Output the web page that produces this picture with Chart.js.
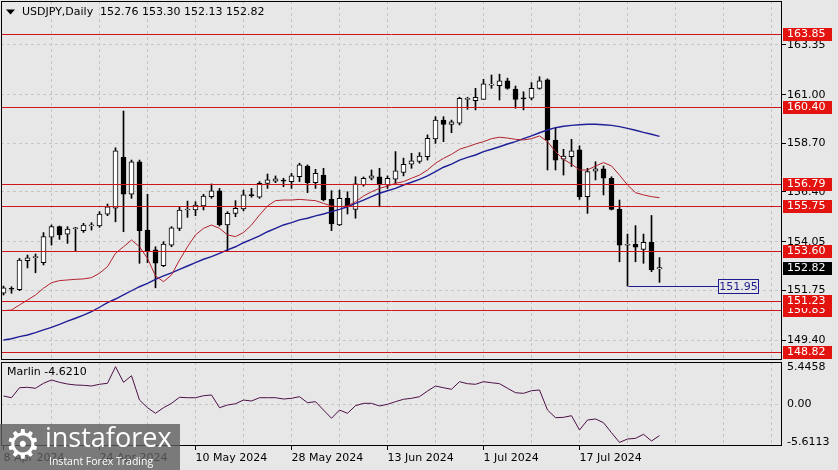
<!DOCTYPE html>
<html><head><meta charset="utf-8">
<script src="https://cdn.jsdelivr.net/npm/chart.js@4.4.1/dist/chart.umd.min.js"></script>
<style>
html,body{margin:0;padding:0;background:#e7e7e7;}
#wrap{position:relative;width:838px;height:470px;overflow:hidden;background:#e7e7e7;}
canvas{position:absolute;left:0;}
#c1{top:0;}
#c2{top:360px;}
#wm{position:absolute;left:0;top:424px;width:180px;height:46px;background:rgba(95,95,95,0.8);color:#fff;font-family:'Open Sans',sans-serif;overflow:hidden;}
#wm .gear{position:absolute;left:5px;top:-3px;font-family:'DejaVu Sans';font-size:40px;line-height:46px;}
#wm .big{position:absolute;left:45px;top:-5px;font-size:27px;line-height:36px;letter-spacing:0px;}
#wm .small{position:absolute;left:49px;top:30px;font-size:10.5px;line-height:14px;}
</style></head>
<body><div id="wrap">
<canvas id="c1" width="838" height="362"></canvas>
<canvas id="c2" width="838" height="110"></canvas>
<div id="wm"><span class="gear">⚙</span><span class="big">instaforex</span><span class="small">Instant Forex Trading</span></div>
</div>
<script>
// ---- data ----
const dateLabels = ['8 Apr 2024','24 Apr 2024','10 May 2024','28 May 2024','13 Jun 2024','1 Jul 2024','17 Jul 2024'];
const dateIdx = [0,12,24,36,48,60,72];
const opens  = [151.61,151.82,151.78,153.15,153.30,153.06,154.26,154.76,154.40,154.66,154.57,154.80,154.79,155.35,155.63,158.04,156.30,157.83,154.60,153.66,152.92,153.89,154.68,155.55,155.55,155.74,156.18,156.46,154.84,155.39,155.60,156.24,156.15,156.81,156.91,
156.95,156.89,157.12,157.63,156.84,157.20,156.05,154.84,156.10,155.58,156.73,157.05,157.12,156.73,157.00,157.33,157.71,157.84,158.07,158.91,159.80,159.60,159.65,160.78,160.72,160.78,161.45,161.43,161.66,161.26,160.82,160.83,161.30,161.70,158.86,157.95,158.07,158.39,156.18,157.39,157.49,157.05,155.58,153.88,153.93,153.69,154.02,152.76];
const highs  = [151.95,151.92,153.26,153.42,153.47,154.48,154.84,154.79,154.76,154.73,154.92,154.95,155.47,155.83,158.49,160.23,157.91,157.91,156.29,153.81,154.05,154.76,155.68,155.97,155.94,156.29,156.78,156.57,155.47,155.99,156.49,156.57,156.89,157.25,157.16,
157.05,157.28,157.76,157.68,157.47,157.52,156.46,156.49,156.41,157.12,157.11,157.44,157.52,157.16,158.31,158.00,158.23,158.26,159.10,159.96,159.96,159.80,160.88,160.88,161.30,161.73,161.93,161.97,161.78,161.41,161.14,161.57,161.85,161.75,159.41,158.42,158.89,158.58,157.52,157.83,157.63,157.12,156.02,154.41,154.81,154.41,155.29,153.30];
const lows   = [151.53,151.61,151.73,152.81,152.58,152.95,153.89,154.16,153.97,153.58,154.49,154.60,154.73,155.28,154.99,154.52,156.10,153.03,153.06,151.87,152.87,153.81,154.57,155.20,155.28,155.55,156.10,154.79,153.62,155.23,155.51,156.15,156.10,156.57,156.84,
156.65,156.57,156.89,156.37,156.57,155.98,154.57,154.81,155.36,155.16,156.68,156.97,155.70,156.57,156.81,157.16,157.52,157.76,157.91,158.70,158.78,159.20,159.57,160.31,160.28,160.78,161.30,160.75,161.26,160.36,160.28,160.75,161.26,157.44,157.44,157.20,157.60,156.05,155.39,156.97,156.26,155.55,153.10,151.95,153.10,153.03,152.63,152.13];
const closes = [151.87,151.80,153.18,153.29,153.34,154.29,154.76,154.37,154.65,154.68,154.84,154.83,155.36,155.70,158.35,156.30,157.83,154.57,153.61,153.03,153.94,154.71,155.55,155.56,155.78,156.21,156.46,154.84,155.39,155.63,156.26,156.23,156.81,156.97,157.02,
156.91,157.16,157.68,156.84,157.28,156.02,154.89,156.10,155.70,156.78,157.05,157.16,156.73,157.05,157.40,157.71,157.87,158.10,158.94,159.80,159.60,159.72,160.83,160.80,160.88,161.51,161.47,161.66,161.30,160.78,160.80,161.30,161.66,158.86,157.91,158.10,158.35,156.18,157.36,157.49,157.05,155.58,153.88,153.93,153.79,154.02,152.71,152.82];
const maRed  = [150.79,150.82,151.06,151.29,151.53,151.85,152.11,152.21,152.24,152.27,152.29,152.35,152.56,152.87,153.50,153.81,154.13,153.81,153.26,152.43,152.16,152.48,153.18,153.81,154.37,154.68,154.84,154.68,154.37,154.29,154.48,154.84,155.31,155.74,155.99,
156.02,156.02,156.05,156.02,155.99,155.86,155.74,155.70,155.74,155.94,156.21,156.41,156.57,156.68,156.81,156.89,157.05,157.20,157.44,157.76,157.99,158.18,158.42,158.54,158.67,158.78,158.92,158.99,158.95,158.89,158.86,158.92,159.05,158.78,158.31,157.94,157.72,157.44,157.44,157.63,157.79,157.63,157.20,156.73,156.37,156.26,156.18,156.13];
const maBlue = [149.40,149.46,149.56,149.64,149.75,149.88,150.00,150.14,150.29,150.43,150.58,150.74,150.95,151.17,151.34,151.53,151.73,151.92,152.08,152.27,152.43,152.58,152.74,152.90,153.06,153.22,153.34,153.50,153.66,153.81,154.00,154.16,154.32,154.52,154.68,
154.84,154.95,155.08,155.16,155.27,155.36,155.47,155.58,155.70,155.86,156.02,156.18,156.34,156.46,156.57,156.73,156.86,157.00,157.16,157.36,157.57,157.72,157.91,158.04,158.15,158.31,158.42,158.54,158.67,158.78,158.92,159.05,159.20,159.33,
159.44,159.51,159.55,159.58,159.60,159.60,159.58,159.55,159.49,159.41,159.32,159.22,159.13,159.03];
const marlin = [1.17,0.92,2.38,2.44,2.30,3.03,3.51,3.17,2.92,2.78,2.73,2.63,2.88,3.03,5.4458,3.17,4.14,0.58,-0.54,-1.36,-0.54,0.10,0.98,0.92,0.92,1.21,1.32,-0.54,-0.15,0.04,0.58,0.44,0.92,0.92,0.92,0.73,0.83,1.07,0.19,0.34,-0.88,-2.09,-0.88,-1.36,-0.25,0.10,0.10,-0.29,-0.04,0.34,0.69,0.83,1.07,
1.90,2.63,2.38,2.15,3.26,2.97,2.88,3.26,3.11,2.97,2.30,1.65,1.56,1.94,2.05,-0.88,-2.00,-1.95,-1.71,-3.80,-2.34,-2.19,-2.73,-4.20,-5.6113,-5.12,-5.02,-4.43,-5.41,-4.62];
const priceTicks = [163.35,161.00,158.70,156.40,154.05,151.75,149.40];
const levels = [148.82,150.83,151.23,153.60,155.75,156.79,160.40,163.85];
const lastPrice = 152.82;
const swingLow = 151.95, swingIdx = 78;
const marlinTicks = [5.4458, 0, -5.6113];
const symbolTitle = 'USDJPY,Daily';
const ohlcTitle = '152.76 153.30 152.13 152.82';
const marlinTitle = 'Marlin -4.6210';
const gridIdx = [6,12,18,24,30,36,42,48,54,60,66,72,78,84,90,96];

// ---- setup ----
Chart.defaults.font.family = 'DejaVu Sans';
Chart.defaults.font.size = 11;
Chart.defaults.color = '#000';
const GRID = '#c6c6c6';
const idx = opens.map((_, i) => i);
const XMIN = -0.3125, XMAX = 97.3125;

function frame(chart) {
  const {ctx, chartArea: a} = chart;
  ctx.save();
  ctx.strokeStyle = '#000'; ctx.lineWidth = 1;
  ctx.strokeRect(a.left + 0.5, a.top + 0.5, a.right - a.left - 1, a.bottom - a.top - 1);
  ctx.restore();
}
function tag(ctx, py, text, bg) {
  ctx.fillStyle = bg;
  ctx.fillRect(783, Math.round(py) - 6, 49, 13);
  ctx.fillStyle = '#fff';
  ctx.textBaseline = 'middle'; ctx.textAlign = 'left';
  ctx.fillText(text, 787, Math.round(py) + 0.5);
}

const mainDecor = {
  id: 'mainDecor',
  afterDatasetsDraw(chart) {
    const {ctx, chartArea: a, scales: {x, y}} = chart;
    ctx.save();
    ctx.lineWidth = 1;
    ctx.strokeStyle = '#d0141c';
    levels.forEach(v => {
      const py = Math.round(y.getPixelForValue(v)) + 0.5;
      ctx.beginPath(); ctx.moveTo(a.left, py); ctx.lineTo(a.right, py); ctx.stroke();
    });
    const sy = Math.round(y.getPixelForValue(swingLow)) + 0.5;
    const sx = Math.round(x.getPixelForValue(swingIdx)) + 0.5;
    ctx.strokeStyle = '#1c1c8c';
    ctx.beginPath(); ctx.moveTo(sx, sy); ctx.lineTo(718, sy); ctx.stroke();
    ctx.fillStyle = '#e7e7e7';
    ctx.fillRect(718.5, sy - 7, 40, 14);
    ctx.strokeRect(718.5, sy - 7, 40, 14);
    ctx.fillStyle = '#1c1c8c';
    ctx.font = '11px "DejaVu Sans"';
    ctx.textAlign = 'center'; ctx.textBaseline = 'middle';
    ctx.fillText(swingLow.toFixed(2), 738.5, sy + 0.5);
    ctx.restore();
  },
  afterDraw(chart) {
    const {ctx, scales: {y}} = chart;
    frame(chart);
    ctx.save();
    ctx.font = '11px "DejaVu Sans"';
    levels.forEach(v => tag(ctx, y.getPixelForValue(v), v.toFixed(2), '#e3140f'));
    tag(ctx, y.getPixelForValue(lastPrice), lastPrice.toFixed(2), '#000');
    ctx.fillStyle = '#000';
    ctx.beginPath(); ctx.moveTo(6, 9.5); ctx.lineTo(15, 9.5); ctx.lineTo(10.5, 14.5); ctx.closePath(); ctx.fill();
    ctx.textAlign = 'left'; ctx.textBaseline = 'middle';
    ctx.fillText(symbolTitle, 22, 12.5);
    ctx.fillText(ohlcTitle, 100, 12.5);
    ctx.restore();
  }
};

new Chart(document.getElementById('c1'), {
  type: 'bar',
  data: {
    datasets: [
      { type: 'line', data: idx.map(i => ({x: i, y: maRed[i]})), borderColor: '#b3202e', borderWidth: 1, pointRadius: 0, tension: 0, order: 1 },
      { type: 'line', data: idx.map(i => ({x: i, y: maBlue[i]})), borderColor: '#1e1e96', borderWidth: 1.4, pointRadius: 0, tension: 0, order: 1 },
      { type: 'bar', data: idx.map(i => ({x: i, y: [opens[i], closes[i]]})),
        backgroundColor: idx.map(i => closes[i] >= opens[i] ? '#ffffff' : '#000000'),
        borderColor: '#000', borderWidth: 1, borderSkipped: false, barThickness: 5, minBarLength: 1, grouped: false, order: 2 },
      { type: 'bar', data: idx.map(i => ({x: i, y: [lows[i], highs[i]]})),
        backgroundColor: '#000', borderWidth: 0, barThickness: 1, grouped: false, order: 3 }
    ]
  },
  options: {
    responsive: false, animation: false, devicePixelRatio: 1, events: [],
    layout: { padding: { left: 1, top: 1, right: 0, bottom: 2 } },
    plugins: { legend: { display: false }, tooltip: { enabled: false } },
    scales: {
      x: { type: 'linear', min: XMIN, max: XMAX, offset: false,
        grid: { offset: false, color: GRID, drawTicks: false },
        border: { display: false, dash: [3, 3] },
        ticks: { display: false },
        afterBuildTicks: s => { s.ticks = gridIdx.map(v => ({value: v})); },
        afterFit: s => { s.height = 0; s.paddingLeft = 0; s.paddingRight = 0; } },
      y: { type: 'linear', position: 'right', min: 148.456, max: 165.43,
        grid: { color: GRID, drawTicks: true, tickLength: 4, tickColor: '#000', tickWidth: 1 },
        border: { display: false, dash: [3, 3] },
        ticks: { padding: 1, color: '#000', callback: v => Number(v).toFixed(2) },
        afterBuildTicks: s => { s.ticks = priceTicks.map(v => ({value: v})); },
        afterFit: s => { s.width = 56; s.paddingTop = 0; s.paddingBottom = 0; } }
    }
  },
  plugins: [mainDecor]
});

const subDecor = {
  id: 'subDecor',
  afterDraw(chart) {
    const {ctx} = chart;
    frame(chart);
    ctx.save();
    ctx.font = '11px "DejaVu Sans"';
    ctx.fillStyle = '#000'; ctx.textAlign = 'left'; ctx.textBaseline = 'middle';
    ctx.fillText(marlinTitle, 7, 12.5);
    ctx.restore();
  }
};

new Chart(document.getElementById('c2'), {
  type: 'line',
  data: {
    datasets: [
      { data: idx.map(i => ({x: i, y: marlin[i]})), borderColor: '#4c1046', borderWidth: 1, pointRadius: 0, tension: 0 }
    ]
  },
  options: {
    responsive: false, animation: false, devicePixelRatio: 1, events: [],
    layout: { padding: { left: 1, top: 2, right: 0, bottom: 0 } },
    plugins: { legend: { display: false }, tooltip: { enabled: false } },
    scales: {
      x: { type: 'linear', min: XMIN, max: XMAX, offset: false,
        grid: { offset: false, drawTicks: true, tickLength: 4,
          color: c => (c.tick && c.tick.value === 0) ? 'rgba(0,0,0,0)' : GRID,
          tickColor: c => (c.tick && dateIdx.includes(c.tick.value)) ? '#000' : 'rgba(0,0,0,0)' },
        border: { display: false, dash: [3, 3] },
        ticks: { autoSkip: false, maxRotation: 0, align: 'start', padding: 2, color: '#000',
          callback: v => { const k = dateIdx.indexOf(v); return k >= 0 ? dateLabels[k] : ''; } },
        afterBuildTicks: s => { s.ticks = [0].concat(gridIdx).map(v => ({value: v})); },
        afterFit: s => { s.height = 24; s.paddingLeft = 0; s.paddingRight = 0; } },
      y: { type: 'linear', position: 'right', min: -6.14, max: 6.14,
        grid: { drawTicks: true, tickLength: 4, tickColor: 'rgba(0,0,0,0)',
          color: c => (c.tick && c.tick.value === 0) ? GRID : 'rgba(0,0,0,0)' },
        border: { display: false, dash: [3, 3] },
        ticks: { padding: 1, color: '#000', callback: v => v === 0 ? '0.00' : Number(v).toFixed(4) },
        afterBuildTicks: s => { s.ticks = marlinTicks.map(v => ({value: v})); },
        afterFit: s => { s.width = 56; s.paddingTop = 0; s.paddingBottom = 0; } }
    }
  },
  plugins: [subDecor]
});
</script>
</body></html>
